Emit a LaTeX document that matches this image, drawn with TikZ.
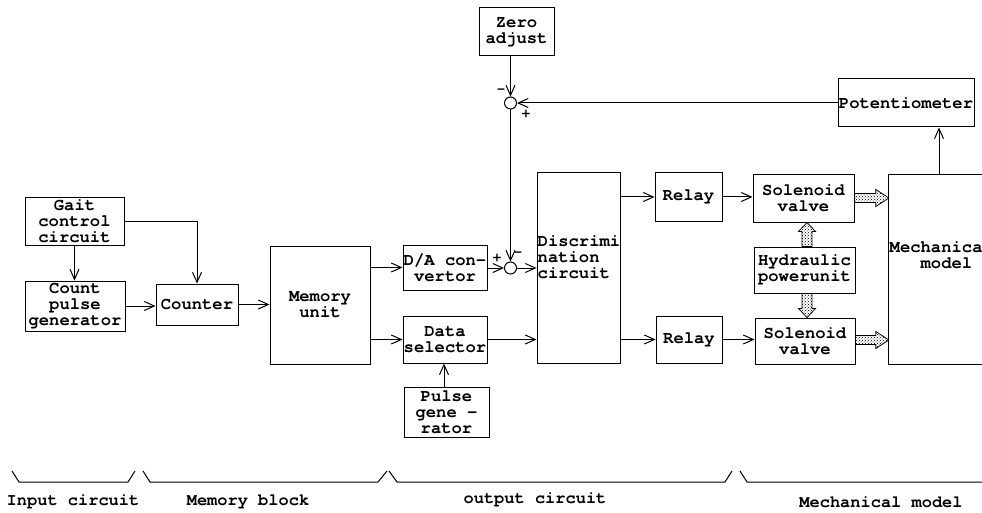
\documentclass[tikz,border=0pt]{standalone}
\usepackage{fontspec}
\newfontfamily\cour{texgyrecursor}[Extension=.otf, UprightFont=*-regular, BoldFont=*-bold]
\usetikzlibrary{arrows.meta,patterns,calc}
\begin{document}
\begin{tikzpicture}[x=1pt,y=-1pt,
  txt/.style={inner sep=0pt, font=\cour\bfseries\fontsize{17.2}{16}\selectfont},
  box/.style={txt, draw, line width=1pt, align=center},
  arr/.style={line width=1pt, -{Straight Barb[length=10pt,width=9pt]}},
  ln/.style={line width=1pt},
  sumpt/.style={circle, draw, line width=1pt, minimum size=12pt, inner sep=0pt},
  fat/.style={draw, line width=0.8pt, preaction={fill=white}, pattern=crosshatch dots},
  sgn/.style={inner sep=0pt, font=\cour\bfseries\fontsize{14}{14}\selectfont},
  lab/.style={inner sep=0pt, font=\cour\bfseries\fontsize{17}{17}\selectfont},
  brace/.style={line width=1pt}
]
\useasboundingbox (0,0) rectangle (982,513);

% boxes
\node[box, minimum width=99pt, minimum height=47pt] (gait) at (74.5,221.5) {Gait\\control\\circuit};
\node[box, minimum width=100pt, minimum height=50pt] (cpg) at (75,306) {Count\\pulse\\generator};
\node[box, minimum width=82pt, minimum height=41pt] (counter) at (197,304.5) {Counter};
\node[box, minimum width=100pt, minimum height=118pt] (mem) at (320,305) {Memory\\unit};
\node[box, minimum width=84pt, minimum height=45pt] (da) at (445,267.5) {D/A con-\\vertor};
\node[box, minimum width=84pt, minimum height=47pt] (ds) at (445,339.5) {Data\\selector};
\node[box, minimum width=85pt, minimum height=50pt] (pg) at (446.5,412) {Pulse\\gene -\\rator};
\node[box, minimum width=75pt, minimum height=48pt] (zero) at (516.5,32) {Zero\\adjust};
\node[box, minimum width=136pt, minimum height=48pt] (pot) at (906,103) {Potentiometer};
\node[draw, line width=1pt, minimum width=83pt, minimum height=190pt, inner sep=0pt] (disc) at (578.5,268) {};
\node[txt, anchor=west, align=left] (disctxt) at (537.5,257) {Discrimi\\nation\\circuit};
\node[box, minimum width=67pt, minimum height=48pt] (relay1) at (688.5,197) {Relay};
\node[box, minimum width=66pt, minimum height=47pt] (relay2) at (689,339.5) {Relay};
\node[box, minimum width=101pt, minimum height=47pt] (sv1) at (803.5,198.5) {Solenoid\\valve};
\node[box, minimum width=100pt, minimum height=46pt] (sv2) at (805,341) {Solenoid\\valve};
\node[box, minimum width=101pt, minimum height=46pt] (hpu) at (804.5,270) {Hydraulic\\powerunit};
\node[minimum width=93pt, minimum height=189pt, inner sep=0pt] (mech) at (935.5,269.5) {};
\draw[ln] (mech.north east) -- (mech.north west) -- (mech.south west) -- (mech.south east);
\node[txt, anchor=west, align=left] (mechtxt) at (889.5,255) {Mechanica\\\hphantom{MMM}model};

% summing points
\node[sgn] (s1m) at (501,91) {-};
\node[sgn] (s1p) at (526,114) {+};
\node[sgn] (s2p) at (497,258) {+};
\node[sgn] (s2m) at (518,254) {-};
\node[sumpt] (sum1) at (510.5,103) {};
\node[sumpt] (sum2) at (510.5,268) {};

% connectors
\draw[arr] (gait.south) -- (gait.south |- cpg.north);
\draw[arr] (gait.east) -| (counter.north);
\draw[arr] (cpg.east) -- (counter.west |- cpg.east);
\draw[arr] (counter.east) -- (mem.west |- counter.east);
\draw[arr] (mem.east |- da.west) -- (da.west);
\draw[arr] (mem.east |- ds.west) -- (ds.west);
\draw[arr] (pg.north -| 444,0) -- (ds.south -| 444,0);
\draw[arr] (da.east |- sum2.west) -- (sum2.west);
\draw[arr] (sum2.east) -- (disc.west |- sum2.east);
\draw[arr] (ds.east) -- (disc.west |- ds.east);
\draw[arr] (sum1.north |- zero.south) -- (sum1.north);
\draw[arr] (pot.west |- sum1.east) -- (sum1.east);
\draw[arr] (sum1.south) -- (sum2.north);
\coordinate (mtop) at (939,175);
\draw[arr] (mtop) -- (mtop |- pot.south);
\draw[arr] (disc.east |- relay1.west) -- (relay1.west);
\draw[arr] (relay1.east) -- (sv1.west |- relay1.east);
\draw[arr] (disc.east |- relay2.west) -- (relay2.west);
\draw[arr] (relay2.east) -- (sv2.west |- relay2.east);

% fat hydraulic arrows
\coordinate (a1) at (sv1.east |- 0,198);  \coordinate (b1) at (mech.west |- 0,198);
\coordinate (a2) at (sv2.east |- 0,340);  \coordinate (b2) at (mech.west |- 0,340);
\coordinate (a3) at (hpu.north -| 807,0); \coordinate (b3) at (sv1.south -| 807,0);
\coordinate (a4) at (hpu.south -| 807,0); \coordinate (b4) at (sv2.north -| 807,0);
\draw[fat] ($(a1)+(0,-4.5)$) -- ($(b1)+(-13,-4.5)$) -- ($(b1)+(-13,-8.5)$) -- (b1)
  -- ($(b1)+(-13,8.5)$) -- ($(b1)+(-13,4.5)$) -- ($(a1)+(0,4.5)$) -- cycle;
\draw[fat] ($(a2)+(0,-4.5)$) -- ($(b2)+(-13,-4.5)$) -- ($(b2)+(-13,-8.5)$) -- (b2)
  -- ($(b2)+(-13,8.5)$) -- ($(b2)+(-13,4.5)$) -- ($(a2)+(0,4.5)$) -- cycle;
\draw[fat] ($(a3)+(-5,0)$) -- ($(b3)+(-5,9)$) -- ($(b3)+(-8.5,9)$) -- (b3)
  -- ($(b3)+(8.5,9)$) -- ($(b3)+(5,9)$) -- ($(a3)+(5,0)$) -- cycle;
\draw[fat] ($(a4)+(-5,0)$) -- ($(b4)+(-5,-9)$) -- ($(b4)+(-8.5,-9)$) -- (b4)
  -- ($(b4)+(8.5,-9)$) -- ($(b4)+(5,-9)$) -- ($(a4)+(5,0)$) -- cycle;

% braces
\draw[brace] (12,471) -- (19,482) -- (128,482) -- (135,471);
\draw[brace] (143,471) -- (150,482) -- (378,482) -- (387,471);
\draw[brace] (389,471) -- (397,482) -- (725,482) -- (732,471);
\draw[brace] (740,471) -- (747,482) -- (982,482);

\node[lab] (l1) at (73,502) {Input circuit};
\node[lab] (l2) at (248,502) {Memory block};
\node[lab] (l3) at (535,500) {output circuit};
\node[lab] (l4) at (881,502) {Mechanical model};
\end{tikzpicture}
\end{document}
